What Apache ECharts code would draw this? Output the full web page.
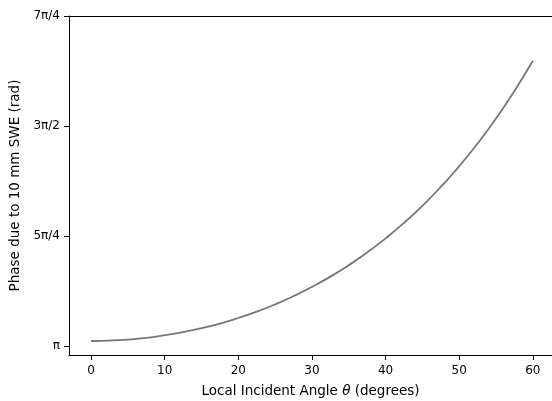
<!DOCTYPE html>
<html>
<head>
<meta charset="utf-8">
<script src="https://cdn.jsdelivr.net/npm/echarts@6/dist/echarts.min.js"></script>
<style>
html,body{margin:0;padding:0;background:#fff;}
#chart{width:552px;height:401px;}
</style>
</head>
<body>
<div id="chart"></div>
<script>
// Local incident angle (degrees)
const angles = [0, 2.5, 5, 7.5, 10, 12.5, 15, 17.5, 20, 22.5, 25, 27.5, 30, 32.5, 35, 37.5, 40, 42.5, 45, 47.5, 50, 52.5, 55, 57.5, 60];
// Phase due to 10 mm SWE (rad)
const phase = [3.180, 3.183, 3.190, 3.202, 3.221, 3.243, 3.271, 3.304, 3.344, 3.389, 3.441, 3.500, 3.566, 3.639, 3.721, 3.812, 3.912, 4.022, 4.144, 4.279, 4.426, 4.589, 4.767, 4.963, 5.179];
const xTicks = [0, 10, 20, 30, 40, 50, 60];
const yTickValues = [Math.PI, 5 * Math.PI / 4, 3 * Math.PI / 2, 7 * Math.PI / 4];
const yTickLabels = ['π', '5π/4', '3π/2', '7π/4'];

const chart = echarts.init(document.getElementById('chart'), null, {renderer: 'canvas'});
const font = 'DejaVu Sans';
const X_MIN = -3, X_MAX = 62.6, Y_MIN = 3.08, Y_MAX = 7 * Math.PI / 4;
chart.setOption({
  animation: false,
  backgroundColor: '#fff',
  grid: {left: 69, right: 0, top: 16, bottom: 46, show: false, outerBoundsMode: 'none', containLabel: false},
  xAxis: [{
    type: 'value', min: X_MIN, max: X_MAX,
    name: '{n|Local Incident Angle }{t|θ}{n| (degrees)}',
    nameLocation: 'middle', nameGap: 29,
    nameTextStyle: {rich: {n: {fontFamily: font, fontSize: 13.5, color: '#000'}, t: {fontFamily: font, fontSize: 13.5, fontStyle: 'italic', color: '#000'}}},
    axisLine: {show: true, onZero: false, lineStyle: {color: '#000', width: 1}},
    axisTick: {show: true, length: 5, lineStyle: {color: '#000'}, customValues: xTicks},
    axisLabel: {fontFamily: font, fontSize: 12, color: '#000', margin: 10, customValues: xTicks},
    splitLine: {show: false}
  }, {
    type: 'value', position: 'top', min: X_MIN, max: X_MAX,
    axisLine: {show: true, onZero: false, lineStyle: {color: '#000', width: 1}},
    axisTick: {show: false}, axisLabel: {show: false}, splitLine: {show: false}
  }],
  yAxis: {
    type: 'value', min: Y_MIN, max: Y_MAX,
    name: 'Phase due to 10 mm SWE (rad)',
    nameLocation: 'middle', nameGap: 46,
    nameTextStyle: {fontFamily: font, fontSize: 13.5, color: '#000'},
    axisLine: {show: true, onZero: false, lineStyle: {color: '#000', width: 1}},
    axisTick: {show: true, length: 5, lineStyle: {color: '#000'}, customValues: yTickValues},
    axisLabel: {
      fontFamily: font, fontSize: 12, color: '#000', margin: 9, customValues: yTickValues,
      formatter: function (v) {
        let best = 0;
        for (let i = 0; i < yTickValues.length; i++) {
          if (Math.abs(yTickValues[i] - v) < Math.abs(yTickValues[best] - v)) best = i;
        }
        return yTickLabels[best];
      }
    },
    splitLine: {show: false}
  },
  series: [{
    type: 'line',
    xAxisIndex: 0,
    data: angles.map((a, i) => [a, phase[i]]),
    smooth: true,
    showSymbol: false,
    lineStyle: {color: '#767676', width: 1.8}
  }]
});
</script>
</body>
</html>
